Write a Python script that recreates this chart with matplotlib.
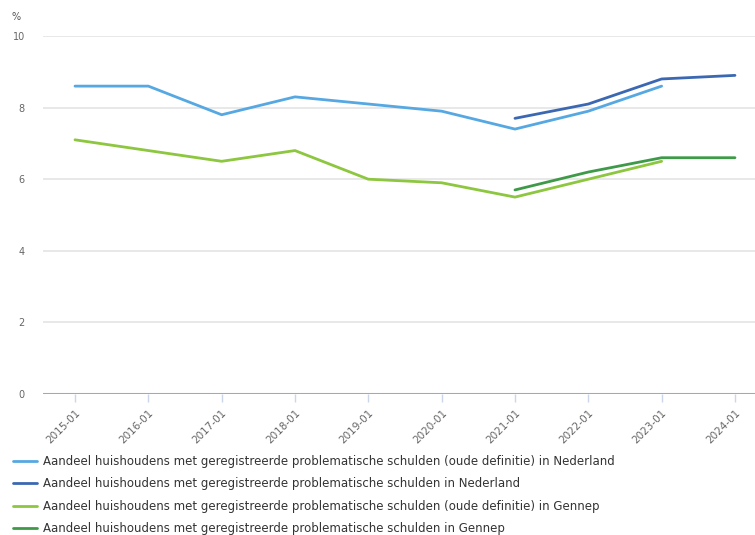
import matplotlib
matplotlib.use("Agg")
import matplotlib.pyplot as plt
import numpy as np

categories = ["2015-01", "2016-01", "2017-01", "2018-01", "2019-01",
              "2020-01", "2021-01", "2022-01", "2023-01", "2024-01"]
nl_old = [8.6, 8.6, 7.8, 8.3, 8.1, 7.9, 7.4, 7.9, 8.6, None]
nl_new = [None, None, None, None, None, None, 7.7, 8.1, 8.8, 8.9]
gen_old = [7.1, 6.8, 6.5, 6.8, 6.0, 5.9, 5.5, 6.0, 6.5, None]
gen_new = [None, None, None, None, None, None, 5.7, 6.2, 6.6, 6.6]
labels = [
    "Aandeel huishoudens met geregistreerde problematische schulden (oude definitie) in Nederland",
    "Aandeel huishoudens met geregistreerde problematische schulden in Nederland",
    "Aandeel huishoudens met geregistreerde problematische schulden (oude definitie) in Gennep",
    "Aandeel huishoudens met geregistreerde problematische schulden in Gennep",
]
colors = ["#56a8e2", "#3b68b2", "#8dc63f", "#3e9a48"]
yticks = [0, 2, 4, 6, 8, 10]

W, H = 755, 535
fig = plt.figure(figsize=(W / 100, H / 100), dpi=100)
left, right, top, bottom = 43, 755, 36, 394
ax = fig.add_axes([left / W, 1 - bottom / H, (right - left) / W, (bottom - top) / H])

x = np.arange(len(categories))
series = [nl_old, nl_new, gen_old, gen_new]
handles = []
for s, c, lab in zip(series, colors, labels):
    y = np.array([np.nan if v is None else v for v in s], dtype=float)
    h, = ax.plot(x, y, color=c, lw=2, label=lab, solid_capstyle="round", zorder=3)
    handles.append(h)

spacing = 73.33
ax.set_xlim((left - 75) / spacing, (right - 75) / spacing)
ax.set_ylim(0, 10)
ax.set_yticks(yticks)
ax.set_yticklabels([str(t) for t in yticks], fontsize=7, color="#666666")
ax.set_xticks(x)
ax.set_xticklabels(categories, rotation=45, ha="right", rotation_mode="anchor",
                   fontsize=7.5, color="#666666")
ax.tick_params(axis="y", length=0, pad=13)
ax.tick_params(axis="x", length=6, color="#ccd6eb", width=1, pad=4)
for t in yticks[1:]:
    ax.axhline(t, color="#e6e6e6", lw=1.3, zorder=1)
ax.axhline(0, color="#a8a8a8", lw=2.2, zorder=2)
for sp in ax.spines.values():
    sp.set_visible(False)

fig.text(12 / W, 1 - 17 / H, "%", fontsize=7, color="#555555", va="center")

leg = fig.legend(handles=handles, labels=labels, loc="upper left",
                 bbox_to_anchor=(13 / W, 1 - 455 / H), frameon=False,
                 fontsize=8.5, labelcolor="#333333", handlelength=2.05,
                 handletextpad=0.5, labelspacing=0.8, borderaxespad=0, borderpad=0)

fig.savefig("out.png", dpi=100)
